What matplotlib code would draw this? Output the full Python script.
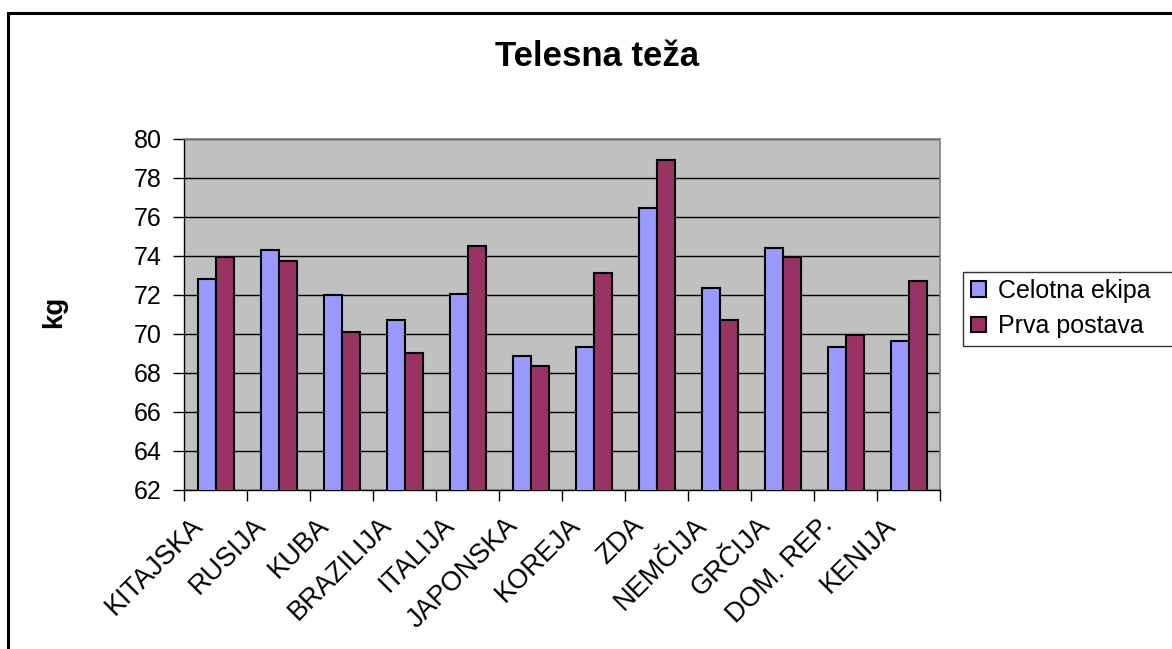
import numpy as np
import matplotlib.pyplot as plt
import matplotlib.transforms as mtransforms
from matplotlib.patches import Rectangle

plt.rcParams['font.family'] = ['Liberation Sans', 'DejaVu Sans']

# data
countries = ['KITAJSKA', 'RUSIJA', 'KUBA', 'BRAZILIJA', 'ITALIJA', 'JAPONSKA',
             'KOREJA', 'ZDA', 'NEMČIJA', 'GRČIJA', 'DOM. REP.', 'KENIJA']
celotna_ekipa = [72.8, 74.3, 72.0, 70.7, 72.05, 68.85, 69.3, 76.45, 72.35, 74.4, 69.3, 69.6]
prva_postava = [73.9, 73.7, 70.1, 69.0, 74.5, 68.35, 73.1, 78.9, 70.7, 73.9, 69.9, 72.7]
yticks = list(range(62, 81, 2))

W, H = 1172, 649
fig = plt.figure(figsize=(W / 100, H / 100), dpi=100)
fig.patch.set_facecolor('white')

# outer chart border (cropped on right and bottom)
fig.add_artist(Rectangle((8 / W, -0.2), 2.0, 1.2 - 13 / H, transform=fig.transFigure,
                         fill=False, edgecolor='black', linewidth=2.2))

ax = fig.add_axes([184 / W, 1 - 489.5 / H, (940 - 184) / W, (489.5 - 138.5) / H])
ax.set_facecolor('#C0C0C0')

x = np.arange(len(countries))
bw = 1 / 3.5
ax.bar(x - bw / 2, celotna_ekipa, bw, color='#9999FF', edgecolor='black',
       linewidth=1.5, label='Celotna ekipa', zorder=3)
ax.bar(x + bw / 2, prva_postava, bw, color='#993366', edgecolor='black',
       linewidth=1.5, label='Prva postava', zorder=3)

ax.set_xlim(-0.5, len(countries) - 0.5)
ax.set_ylim(62, 80)
ax.set_yticks(yticks)
ax.set_yticklabels([str(v) for v in yticks], fontsize=18)
ax.yaxis.grid(True, color='black', linewidth=1.0, zorder=1)
ax.set_axisbelow(True)
ax.tick_params(axis='y', length=8, width=1, pad=8, color='black')

ax.set_xticks(np.arange(len(countries) + 1) - 0.5)
ax.set_xticklabels([])
ax.tick_params(axis='x', length=8, width=1, color='black')

for s in ['top', 'right']:
    ax.spines[s].set_color('#808080')
    ax.spines[s].set_linewidth(1.2)
for s in ['left', 'bottom']:
    ax.spines[s].set_color('black')
    ax.spines[s].set_linewidth(1.0)

trans = mtransforms.offset_copy(ax.get_xaxis_transform(), fig=fig, x=-26, y=-23, units='dots')
for i, name in enumerate(countries):
    ax.text(i, 0, name, transform=trans, rotation=45, rotation_mode='anchor',
            ha='right', va='top', fontsize=19.5)

fig.text(54 / W, 1 - 312 / H, 'kg', rotation=90, ha='center', va='center',
         fontsize=20, fontweight='bold')

fig.text(597 / W, 1 - 66 / H, 'Telesna teža', ha='center', va='baseline',
         fontsize=25, fontweight='bold')

# legend box runs past the right edge of the picture, like the reference
leg = fig.legend(loc='upper left', mode='expand',
                 bbox_to_anchor=(963 / W, 1 - 346 / H, (1180 - 963) / W, (346 - 271.5) / H),
                 fontsize=18, frameon=True, fancybox=False, edgecolor='black',
                 handlelength=0.6, handleheight=0.6, handletextpad=0.5,
                 labelspacing=0.45, borderpad=0.3, borderaxespad=0)
leg.get_frame().set_linewidth(1.0)

fig.savefig('out.png', dpi=100)
